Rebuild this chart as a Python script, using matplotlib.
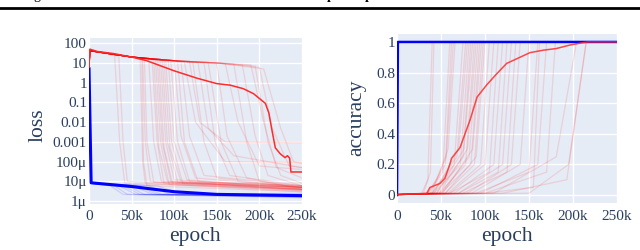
import numpy as np
import matplotlib
matplotlib.use("Agg")
import matplotlib.pyplot as plt

# ---------------- data (epochs in thousands) ----------------
x_ticks = [0, 50, 100, 150, 200, 250]
x_tick_labels = ["0", "50k", "100k", "150k", "200k", "250k"]
loss_ticks = [1e2, 1e1, 1e0, 1e-1, 1e-2, 1e-3, 1e-4, 1e-5, 1e-6]
loss_tick_labels = ["100", "10", "1", "0.1", "0.01", "0.001", "100\u03bc", "10\u03bc", "1\u03bc"]
acc_ticks = [0, 0.2, 0.4, 0.6, 0.8, 1.0]
acc_tick_labels = ["0", "0.2", "0.4", "0.6", "0.8", "1"]

# per-run test loss keypoints
loss_init = 6.0
loss_peak = 42.0
plateau_k = [1, 50, 100, 150]
plateau_v = [42, 20, 13, 10]
loss_drop_start = [30, 35, 60, 62, 63, 65, 70, 74, 76, 78, 80, 82, 84, 86, 88, 90, 93, 96, 100, 104,
                   108, 112, 118, 122, 128, 135, 140, 150, 160, 170, 180, 190, 195, 200, 205]
loss_plateau = [25, 22, 18, 18, 17, 17, 16, 16, 15, 15, 15, 14, 14, 14, 13, 13, 13, 12, 12, 12,
                11, 11, 11, 10, 10, 10, 10, 9, 9, 9, 8, 8, 7, 6, 5]
loss_knee = [36, 40, 63, 64, 66, 68, 76, 80, 82, 84, 86, 88, 90, 92, 95, 97, 100, 104, 108, 112,
             118, 125, 130, 135, 140, 148, 155, 162, 175, 185, 195, 205, 210, 215, 225]
loss_knee_val = [1e-3, 1e-3, 1e-4, 1e-4, 1e-3, 1e-3, 1e-3, 1e-3, 5e-4, 1e-3, 1e-3, 5e-4, 1e-3, 1e-3, 5e-4,
                 1e-3, 1e-3, 1e-3, 2e-3, 1e-3, 2e-3, 1e-2, 1e-2, 1e-3, 5e-3, 1e-3, 1e-3, 2e-3, 1e-2,
                 1e-3, 2e-3, 1e-2, 1e-3, 5e-3, 5e-3]
loss_end = [42, 45, 66, 68, 72, 76, 85, 88, 92, 94, 96, 98, 100, 104, 108, 110, 115, 118, 125, 128,
            135, 160, 160, 150, 170, 165, 175, 185, 200, 200, 210, 220, 225, 235, 240]
loss_end_val = [8e-6, 1e-5, 8e-6, 6e-6, 1e-5, 9e-6, 1e-5, 8e-6, 1e-5, 7e-6, 1e-5, 8e-6, 1.2e-5, 9e-6, 1e-5,
                8e-6, 1.2e-5, 1e-5, 1.5e-5, 1e-5, 2e-5, 1e-4, 1e-3, 1.5e-5, 2e-4, 2e-5, 1e-5, 1.5e-5,
                6e-5, 1e-5, 2e-5, 5e-5, 2e-5, 6e-5, 1e-4]
loss_final = [4e-6, 5e-6, 3.5e-6, 3e-6, 5e-6, 4e-6, 4e-6, 3.5e-6, 5e-6, 3e-6, 6e-6, 4e-6, 5e-6, 4e-6, 3.5e-6,
              5e-6, 4.5e-6, 6e-6, 5e-6, 4e-6, 6e-6, 9e-5, 9e-4, 5e-6, 5e-5, 6e-6, 5e-6, 4e-6,
              4e-5, 5e-6, 6e-6, 1.5e-5, 8e-6, 5e-5, 8e-5]

# mean test loss
mean_loss_k = [0, 1, 10, 28.6, 50, 67.8, 100, 126.6, 150, 165.8, 181, 193, 207, 211, 214.7, 218.7,
               224.5, 230, 233, 235.5, 237, 250]
mean_loss_v = [6, 50, 38, 30, 20, 13, 4, 1.7, 0.9, 0.75, 0.5, 0.28, 0.09, 0.03, 0.004, 5e-4,
               2.5e-4, 1.6e-4, 2e-4, 1.5e-4, 3e-5, 3e-5]

# train loss
mean_train_k = [0, 2.5, 50, 100, 150, 250]
mean_train_v = [6, 8.5e-6, 5.5e-6, 3e-6, 2.2e-6, 1.9e-6]
train_drop_start = [25, 30, 35, 40, 45, 50, 55, 60, 70, 80]
train_drop_end = [40, 45, 55, 60, 65, 75, 80, 85, 95, 110]
train_final = [1.6e-6, 1.8e-6, 1.5e-6, 2e-6, 1.7e-6, 1.6e-6, 2.2e-6, 1.8e-6, 2e-6, 2.5e-6]

# per-run test accuracy keypoints
acc_start = [28, 30, 35, 35, 38, 40, 40, 40, 42, 42, 45, 45, 48, 48, 50, 50, 52, 55, 55, 58,
             60, 60, 65, 70, 70, 75, 80, 85, 90, 95, 100, 110, 120, 100, 150]
acc_knee = [35, 38, 52, 55, 56, 58, 65, 68, 70, 72, 75, 76, 78, 80, 82, 84, 86, 88, 90, 95,
            100, 105, 110, 115, 120, 125, 130, 140, 150, 160, 170, 181, 193, 155, 195]
acc_knee_val = [0.1, 0.15, 0.15, 0.2, 0.25, 0.3, 0.2, 0.25, 0.3, 0.2, 0.25, 0.3, 0.2, 0.3, 0.25, 0.2,
                0.3, 0.2, 0.25, 0.2, 0.2, 0.15, 0.2, 0.15, 0.2, 0.15, 0.2, 0.2, 0.15, 0.2, 0.15,
                0.25, 0.1, 0.05, 0.2]
acc_full = [40, 42, 60, 62, 64, 66, 75, 78, 80, 82, 84, 86, 88, 90, 92, 94, 96, 98, 100, 105,
            110, 115, 120, 125, 130, 135, 140, 150, 160, 170, 180, 204, 215, 162, 215]

mean_acc_k = [0, 33.7, 37.5, 49, 54.5, 60, 62, 71.6, 83, 91, 102, 113, 124.6, 136, 151, 166, 181,
              196.6, 211.7, 217, 250]
mean_acc_v = [0.003, 0.01, 0.05, 0.076, 0.11, 0.2, 0.24, 0.31, 0.49, 0.64, 0.72, 0.79, 0.86, 0.89,
              0.93, 0.946, 0.957, 0.98, 0.996, 1.0, 1.0]
train_acc_k = [0, 1, 250]
train_acc_v = [0.0, 1.0, 1.0]

# ---------------- style ----------------
TXT = "#2a3f5f"
BG = "#E5ECF6"
FONT = ["Liberation Serif", "DejaVu Serif"]
plt.rcParams["font.family"] = FONT

W, H = 640, 250
fig = plt.figure(figsize=(6.4, 2.5), dpi=100)


def ax_at(l, t, r, b):
    return fig.add_axes([l / W, 1 - b / H, (r - l) / W, (b - t) / H])


def style(ax):
    ax.set_facecolor(BG)
    for s in ax.spines.values():
        s.set_visible(False)
    ax.grid(True, color="white", linewidth=1.0)
    ax.set_axisbelow(True)
    ax.tick_params(length=0, labelsize=11, colors=TXT)
    ax.tick_params(axis="y", pad=1.5)
    ax.tick_params(axis="x", pad=5)
    ax.minorticks_off()


# ---------------- left: loss ----------------
ax1 = ax_at(89, 38.3, 302, 203.5)
style(ax1)
ax1.set_yscale("log")
ax1.set_ylim(10 ** -6.12, 10 ** 2.25)
ax1.set_xlim(0, 250)
ax1.set_yticks(loss_ticks)
ax1.set_yticklabels(loss_tick_labels)
ax1.minorticks_off()
ax1.set_xticks(x_ticks)
ax1.set_xticklabels(x_tick_labels)

for i in range(len(loss_drop_start)):
    xs = [0]
    ys = [loss_init]
    for pk, pv in zip(plateau_k, plateau_v):
        if pk < loss_drop_start[i]:
            xs.append(pk)
            ys.append(pv)
    xs += [loss_drop_start[i], loss_knee[i], loss_end[i], 250]
    ys += [loss_plateau[i], loss_knee_val[i], loss_end_val[i], loss_final[i]]
    ax1.plot(xs, ys, color="red", alpha=0.12, lw=0.9)

for i in range(len(train_drop_start)):
    xs = [0, 2.5, train_drop_start[i], train_drop_end[i], 250]
    ys = [6, 8e-6, 6e-6, 2.2e-6, train_final[i]]
    ax1.plot(xs, ys, color="blue", alpha=0.12, lw=0.9)

ax1.plot(mean_train_k, mean_train_v, color="blue", lw=2.2, solid_capstyle="butt")
ax1.plot(mean_loss_k, mean_loss_v, color="#ff2a2a", lw=1.1)

# ---------------- right: accuracy ----------------
ax2 = ax_at(397, 34, 617, 203)
style(ax2)
ax2.set_ylim(-0.052, 1.052)
ax2.set_xlim(0, 250)
ax2.set_yticks(acc_ticks)
ax2.set_yticklabels(acc_tick_labels)
ax2.set_xticks(x_ticks)
ax2.set_xticklabels(x_tick_labels)

for i in range(len(acc_start)):
    xs = [0, acc_start[i], acc_knee[i], acc_full[i], 250]
    ys = [0.003, 0.012, acc_knee_val[i], 1.0, 1.0]
    ax2.plot(xs, ys, color="red", alpha=0.12, lw=0.9)

ax2.plot(train_acc_k, train_acc_v, color="blue", lw=1.8)
ax2.plot(mean_acc_k, mean_acc_v, color="#ff2a2a", lw=1.1, alpha=0.85)

# ---------------- labels ----------------
fig.text(38 / W, 1 - 125 / H, "loss", rotation=90, ha="center", va="center", fontsize=15.5, color=TXT)
fig.text(195 / W, 1 - 237 / H, "epoch", ha="center", va="center", fontsize=15.5, color=TXT)
fig.text(357 / W, 1 - 118 / H, "accuracy", rotation=90, ha="center", va="center", fontsize=15.5, color=TXT)
fig.text(507 / W, 1 - 237 / H, "epoch", ha="center", va="center", fontsize=15.5, color=TXT)

# page rule and clipped caption remnants at the top
fig.add_artist(plt.Line2D([0, 1], [1 - 8 / H, 1 - 8 / H], color="black", lw=2.0, transform=fig.transFigure))
fig.text(33 / W, 1 + 0.5 / H, "g", ha="left", va="baseline", fontsize=10, color="black")
fig.text(327 / W, 1 + 0.5 / H, "p", ha="left", va="baseline", fontsize=10, color="black", fontweight="bold")
fig.text(365 / W, 1 + 0.5 / H, "p", ha="left", va="baseline", fontsize=10, color="black", fontweight="bold")

fig.savefig("out.png", dpi=100, facecolor="white")
